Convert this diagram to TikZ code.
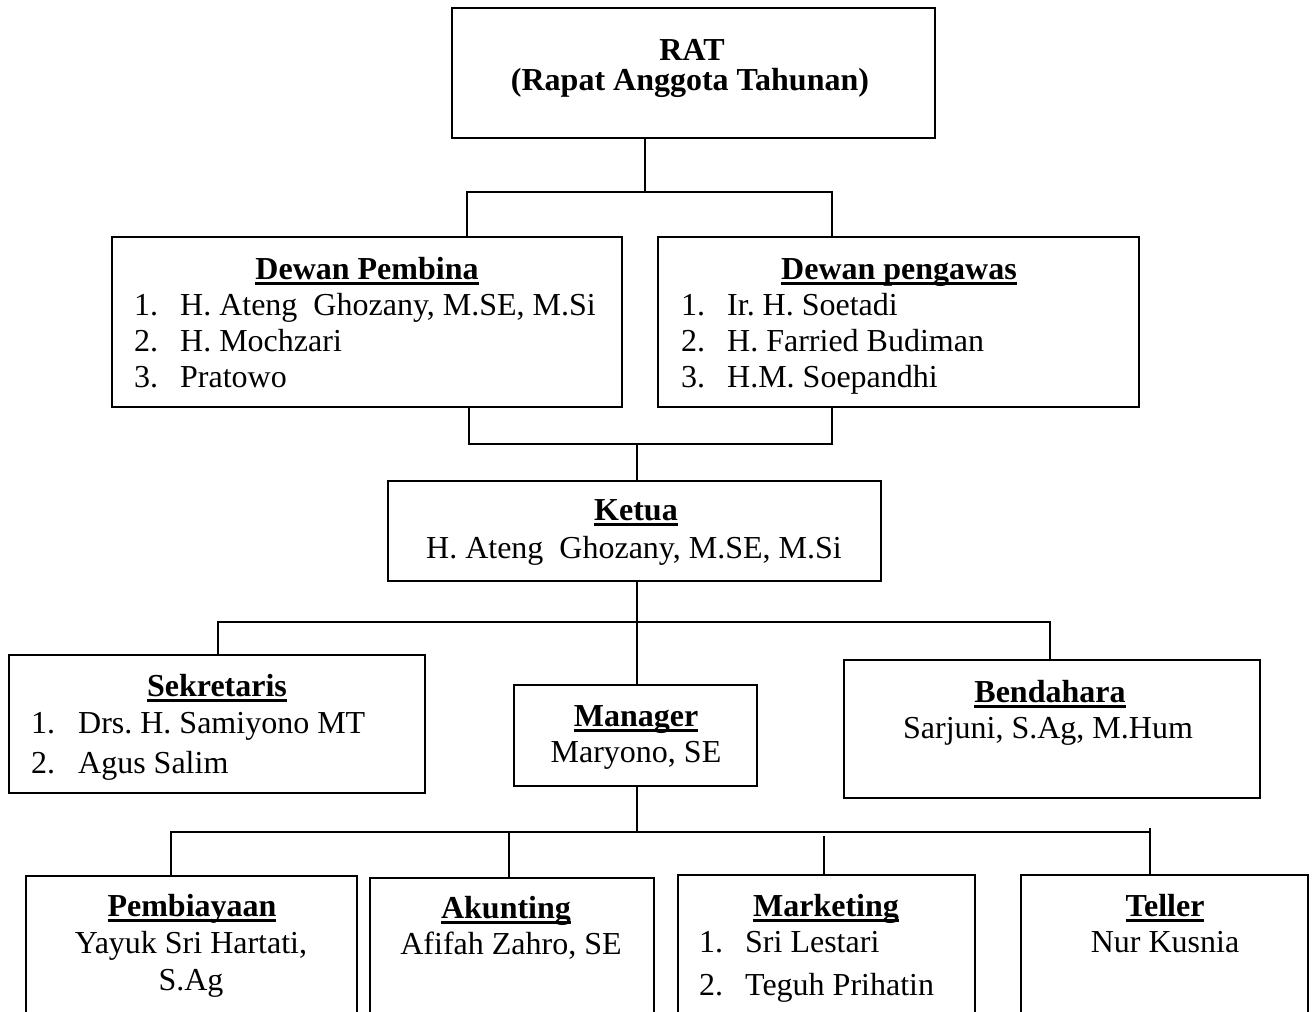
\documentclass[tikz,border=0pt]{standalone}
\usepackage{fontspec}
\setmainfont{Liberation Serif}
\frenchspacing
\newcommand\myul[1]{\setbox0\hbox{#1}\rlap{\vrule width\wd0 height -2.5pt depth 5.5pt}\box0}
\begin{document}
\begin{tikzpicture}[x=1pt,y=-1pt,
  box/.style={draw,line width=1.6pt,inner sep=0pt,outer sep=0pt},
  txt/.style={inner sep=0pt,anchor=base,font=\fontsize{32}{37}\selectfont},
  ttl/.style={txt,font=\fontsize{32}{37}\selectfont\bfseries},
  item/.style={txt,anchor=base west},
  conn/.style={line width=1.6pt}]
\useasboundingbox (0,0) rectangle (1315,1012);
\clip (0,0) rectangle (1315,1012);
\fill[white] (0,0) rectangle (1315,1012);
% boxes
\node[box,minimum width=483pt,minimum height=130pt] (rat) at (693.5,73) {};
\node[box,minimum width=510pt,minimum height=170pt] (dp) at (367,322) {};
\node[box,minimum width=481pt,minimum height=170pt] (dw) at (898.5,322) {};
\node[box,minimum width=493pt,minimum height=100pt] (ketua) at (634.5,531) {};
\node[box,minimum width=416pt,minimum height=138pt] (sek) at (217,724) {};
\node[box,minimum width=243pt,minimum height=101pt] (man) at (635.5,735.5) {};
\node[box,minimum width=416pt,minimum height=138pt] (ben) at (1052,729) {};
\node[box,minimum width=331pt,minimum height=184pt] (pem) at (191.5,968) {};
\node[box,minimum width=284pt,minimum height=182pt] (aku) at (512,969) {};
\node[box,minimum width=297pt,minimum height=185pt] (mar) at (826.5,967.5) {};
\node[box,minimum width=287pt,minimum height=185pt] (tel) at (1164.5,967.5) {};
% texts
\node[ttl] (t-rat1) at (692,60) {RAT};
\node[ttl] (t-rat2) at (690,90) {(Rapat Anggota Tahunan)};
\node[ttl] (t-dp) at (367,279) {\myul{Dewan Pembina}};
\node[item] (t-dp1) at (134,315) {\makebox[46pt][l]{1.}H. Ateng\ \ Ghozany, M.SE, M.Si};
\node[item] (t-dp2) at (134,351) {\makebox[46pt][l]{2.}H. Mochzari};
\node[item] (t-dp3) at (134,387) {\makebox[46pt][l]{3.}Pratowo};
\node[ttl] (t-dw) at (899,279) {\myul{Dewan pengawas}};
\node[item] (t-dw1) at (681,315) {\makebox[46pt][l]{1.}Ir. H. Soetadi};
\node[item] (t-dw2) at (681,351) {\makebox[46pt][l]{2.}H. Farried Budiman};
\node[item] (t-dw3) at (681,387) {\makebox[46pt][l]{3.}H.M. Soepandhi};
\node[ttl] (t-k) at (636,520) {\myul{Ketua}};
\node[txt] (t-k1) at (634,558) {H. Ateng\ \ Ghozany, M.SE, M.Si};
\node[ttl] (t-sek) at (217,696) {\myul{Sekretaris}};
\node[item] (t-sek1) at (31,733) {\makebox[47pt][l]{1.}Drs. H. Samiyono MT};
\node[item] (t-sek2) at (31,773) {\makebox[47pt][l]{2.}Agus Salim};
\node[ttl] (t-man) at (636,726) {\myul{Manager}};
\node[txt] (t-man1) at (636,762) {Maryono, SE};
\node[ttl] (t-ben) at (1050,702) {\myul{Bendahara}};
\node[txt] (t-ben1) at (1048,738) {Sarjuni, S.Ag, M.Hum};
\node[ttl] (t-pem) at (192,916) {\myul{Pembiayaan}};
\node[txt] (t-pem1) at (191,953) {Yayuk Sri Hartati,};
\node[txt] (t-pem2) at (191,990) {S.Ag};
\node[ttl] (t-aku) at (506,918) {\myul{Akunting}};
\node[txt] (t-aku1) at (511,954) {Afifah Zahro, SE};
\node[ttl] (t-mar) at (826,916) {\myul{Marketing}};
\node[item] (t-mar1) at (699,952) {\makebox[46pt][l]{1.}Sri Lestari};
\node[item] (t-mar2) at (699,995) {\makebox[46pt][l]{2.}Teguh Prihatin};
\node[ttl] (t-tel) at (1165,916) {\myul{Teller}};
\node[txt] (t-tel1) at (1165,952) {Nur Kusnia};
% connectors
\coordinate (a1) at (645,192);
\coordinate (a1l) at (467,192);
\coordinate (a1r) at (832,192);
\draw[conn] (rat.south -| a1) -- (a1);
\draw[conn] (a1l |- dp.north) -- (a1l) -- (a1r) -- (a1r |- dw.north);
\coordinate (b1) at (637,444);
\coordinate (b1l) at (469,444);
\coordinate (b1r) at (832,444);
\draw[conn] (b1l |- dp.south) -- (b1l) -- (b1r) -- (b1r |- dw.south);
\draw[conn] (b1) -- (b1 |- ketua.north);
\coordinate (c1) at (637,622);
\coordinate (c1l) at (218,622);
\coordinate (c1r) at (1050,622);
\draw[conn] (c1 |- ketua.south) -- (c1 |- man.north);
\draw[conn] (c1l |- sek.north) -- (c1l) -- (c1r) -- (c1r |- ben.north);
\coordinate (d1) at (637,832);
\coordinate (d1a) at (171,832);
\coordinate (d1b) at (509,832);
\coordinate (d1c) at (824,836);
\coordinate (d1d) at (1150,828);
\coordinate (d1e) at (1150,832);
\draw[conn] (d1 |- man.south) -- (d1);
\draw[conn] (d1a |- pem.north) -- (d1a) -- (d1e);
\draw[conn] (d1b) -- (d1b |- aku.north);
\draw[conn] (d1c) -- (d1c |- mar.north);
\draw[conn] (d1d) -- (d1d |- tel.north);
\end{tikzpicture}
\end{document}
